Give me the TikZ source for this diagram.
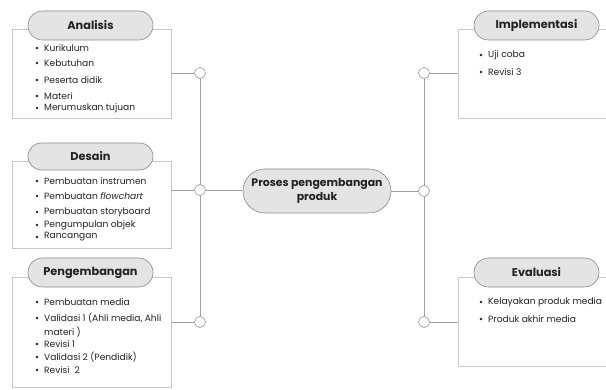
\documentclass[tikz,border=0pt]{standalone}
\usepackage{fontspec}
\setmainfont{Poppins}
\usetikzlibrary{shapes.misc}
\definecolor{boxgray}{HTML}{C8C8C8}
\definecolor{linegray}{HTML}{A0A0A0}
\definecolor{pillfill}{HTML}{E4E4E4}
\definecolor{pillline}{HTML}{8A8A8A}
\definecolor{txt}{HTML}{222222}
\begin{document}
\begin{tikzpicture}[x=1pt,y=-1pt,
  box/.style={draw=boxgray, line width=0.8pt, fill=white, rectangle, inner sep=0pt},
  pill/.style={draw=pillline, fill=pillfill, line width=0.6pt, rounded rectangle, inner sep=0pt,
     minimum width=125pt, minimum height=29pt, font=\fontsize{11.3}{13}\selectfont\bfseries, text=txt},
  dot/.style={circle, draw=linegray, fill=white, line width=0.7pt, minimum size=11pt, inner sep=0pt},
  conn/.style={draw=linegray, line width=0.7pt},
  item/.style={anchor=west, inner sep=0pt, font=\fontsize{9.1}{10}\selectfont, text=txt},
  bul/.style={circle, fill=txt, minimum size=2.6pt, inner sep=0pt}]
\useasboundingbox (0,0) rectangle (606,390);
\clip (0,0) rectangle (606,390);
\fill[white] (0,0) rectangle (606,390);

% boxes
\node[box, minimum width=159pt, minimum height=89pt] (b1) at (91.5,73.5) {};
\node[box, minimum width=159pt, minimum height=87pt] (b2) at (91.5,204.5) {};
\node[box, minimum width=159pt, minimum height=110pt] (b3) at (91.5,332) {};
\node[box, minimum width=170pt, minimum height=89pt] (b4) at (543,73.5) {};
\node[box, minimum width=170pt, minimum height=89pt] (b5) at (543,321.5) {};

% junction points
\coordinate (cl1) at (200,73);
\coordinate (cl2) at (200,190);
\coordinate (cl3) at (200,322);
\coordinate (cr1) at (424,73);
\coordinate (cr2) at (424,191);
\coordinate (cr3) at (424,322);

% center
\node[pill, minimum width=148pt, minimum height=44pt, font=\fontsize{10.9}{13.5}\selectfont\bfseries, align=center] (c) at (317,191) {Proses pengembangan\\produk};

% connectors
\draw[conn] (cl1) -- (cl3);
\draw[conn] (cr1) -- (cr3);
\draw[conn] (b1.east |- cl1) -- (cl1);
\draw[conn] (b2.east |- cl2) -- (cl2);
\draw[conn] (b3.east |- cl3) -- (cl3);
\draw[conn] (cl2) -- (c.west |- cl2);
\draw[conn] (c.east |- cr2) -- (cr2);
\draw[conn] (cr1) -- (b4.west |- cr1);
\draw[conn] (cr3) -- (b5.west |- cr3);

\node[dot] (d1) at (cl1) {};
\node[dot] (d2) at (cl2) {};
\node[dot] (d3) at (cl3) {};
\node[dot] (d4) at (cr1) {};
\node[dot] (d5) at (cr2) {};
\node[dot] (d6) at (cr3) {};

% pills
\node[pill] (p1) at (90.5,25.5) {Analisis};
\node[pill, minimum height=27pt] (p2) at (90.5,156.5) {Desain};
\node[pill] (p3) at (90.5,272.5) {Pengembangan};
\node[pill] (p4) at (536.5,25.5) {Implementasi};
\node[pill] (p5) at (536.5,272.5) {Evaluasi};

% items
\newcommand{\itm}[4]{\node[bul] (#1b) at (#2,#3) {}; \node[item] (#1) at (#2+7,#3) {#4};}
\itm{a1}{37}{48}{Kurikulum}
\itm{a2}{37}{63}{Kebutuhan}
\itm{a3}{37}{80}{Peserta didik}
\itm{a4}{37}{96}{Materi}
\itm{a5}{37}{108}{Merumuskan tujuan}

\itm{s1}{37}{181}{Pembuatan instrumen}
\itm{s2}{37}{196}{Pembuatan \textit{flowchart}}
\itm{s3}{37}{212}{Pembuatan storyboard}
\itm{s4}{37}{225}{Pengumpulan objek}
\itm{s5}{37}{237}{Rancangan}

\itm{g1}{37}{302}{Pembuatan media}
\itm{g2}{37}{318}{Validasi 1 (Ahli media, Ahli}
\node[item] (g2b2) at (44,332) {materi )};
\itm{g3}{37}{344}{Revisi 1}
\itm{g4}{37}{357}{Validasi 2 (Pendidik)}
\itm{g5}{37}{370}{Revisi\ \ 2}

\itm{i1}{481}{55}{Uji coba}
\itm{i2}{481}{72}{Revisi 3}

\itm{e1}{481}{302}{Kelayakan produk media}
\itm{e2}{481}{319}{Produk akhir media}
\end{tikzpicture}
\end{document}
